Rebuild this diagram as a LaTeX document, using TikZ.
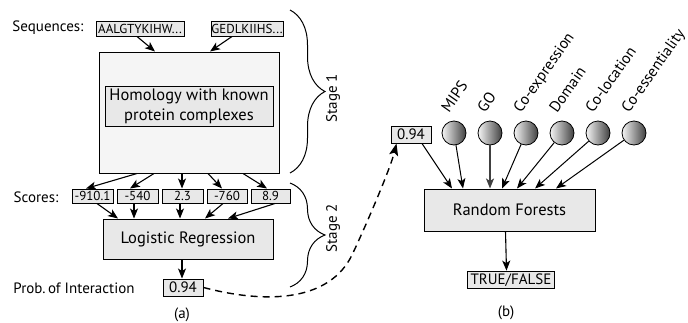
\documentclass[tikz,border=0pt]{standalone}
\usepackage{fontspec}
\setmainfont{PT Sans}
\usetikzlibrary{arrows.meta,decorations.pathreplacing,calc}
\begin{document}
\begin{tikzpicture}[x=1pt,y=-1pt,
  txt/.style={inner sep=0pt,font=\fontsize{15}{17}\selectfont},
  box/.style={draw,line width=1pt,fill=gray!18,inner sep=0pt,font=\fontsize{13}{15}\selectfont},
  bigbox/.style={draw,line width=1pt,fill=gray!8,inner sep=0pt},
  ball/.style={circle,draw,line width=0.8pt,minimum size=24pt,inner sep=0pt,left color=gray!8,right color=black!75},
  lbl/.style={rotate=55,anchor=base west,inner sep=0pt,font=\fontsize{15.5}{18}\selectfont},
  arr/.style={line width=1.1pt,-{Stealth[length=10pt,width=8pt,inset=2.5pt]}},
  ln/.style={line width=1pt,-{Stealth[length=10pt,width=8pt,inset=2.5pt]}},
  bracestyle/.style={line width=1pt,decorate,decoration={brace,amplitude=35pt}}
]
\useasboundingbox (0,0) rectangle (688,322);

% ---- part (a)
\node[txt] (seqlbl) at (48,28) {Sequences:};
\node[box,minimum width=88pt,minimum height=15pt] (s1) at (140,28.5) {AALGTYKIHW...};
\node[box,minimum width=72pt,minimum height=15pt] (s2) at (247,28.5) {GEDLKIIHS...};
\node[bigbox,minimum width=180pt,minimum height=121pt] (big) at (189,112.5) {};
\node[box,minimum width=168pt,minimum height=40pt,align=center,font=\fontsize{16.5}{20}\selectfont] (hom) at (189,106) {Homology with known\\protein complexes};
\draw[arr] ([xshift=-3pt]s1.south) -- ([xshift=-34pt]big.north);
\draw[arr] ([xshift=-15pt]s2.south) -- ([xshift=21pt]big.north);

\node[txt] (scorelbl) at (36,197) {Scores:};
\node[box,minimum width=41pt,minimum height=14pt] (sc1) at (92.5,196) {-910.1};
\node[box,minimum width=41pt,minimum height=14pt] (sc2) at (137.5,196) {-540};
\node[box,minimum width=41pt,minimum height=14pt] (sc3) at (182.5,196) {2.3};
\node[box,minimum width=40pt,minimum height=14pt] (sc4) at (227,196) {-760};
\node[box,minimum width=39pt,minimum height=14pt] (sc5) at (270.5,196) {8.9};

\draw[arr] ([xshift=-52pt]big.south) -- ([xshift=-6.5pt]sc1.north);
\draw[arr] ([xshift=-35pt]big.south) -- ([xshift=-7.5pt]sc2.north);
\draw[arr] ([xshift=-7pt]big.south) -- ([xshift=-0.5pt]sc3.north);
\draw[arr] ([xshift=19pt]big.south) -- ([xshift=-5pt]sc4.north);
\draw[arr] ([xshift=54pt]big.south) -- ([xshift=-3.5pt]sc5.north);

\node[box,minimum width=170pt,minimum height=40pt,font=\fontsize{16.5}{19}\selectfont] (lr) at (188,239) {Logistic Regression};
\draw[arr] ([xshift=4.5pt]sc1.south) -- ([xshift=-70pt]lr.north);
\draw[arr] ([xshift=-3.5pt]sc2.south) -- ([xshift=-54pt]lr.north);
\draw[arr] ([xshift=-2.5pt]sc3.south) -- ([xshift=-8pt]lr.north);
\draw[arr] ([xshift=-4pt]sc4.south) -- ([xshift=17pt]lr.north);
\draw[arr] ([xshift=4.5pt]sc5.south) -- ([xshift=40pt]lr.north);

\node[box,minimum width=40pt,minimum height=17pt,font=\fontsize{15}{17}\selectfont] (p) at (183,287.5) {0.94};
\draw[arr] ([xshift=-6pt]lr.south) -- ([xshift=-1pt]p.north);
\node[txt] (problbl) at (74,288) {Prob.\,of Interaction};
\node[txt] (alab) at (182,315) {(a)};

\draw[bracestyle] (290,10) -- (290,173);
\node[txt,rotate=90] (st1) at (333,98) {Stage 1};
\draw[bracestyle] (290,183) -- (290,287);
\node[txt,rotate=90] (st2) at (333,228) {Stage 2};

% ---- part (b)
\node[box,minimum width=40pt,minimum height=17pt,font=\fontsize{15}{17}\selectfont] (pb) at (411,134.5) {0.94};
\node[ball] (c1) at (454,133) {};
\node[ball] (c2) at (490,133) {};
\node[ball] (c3) at (526,133) {};
\node[ball] (c4) at (562,133) {};
\node[ball] (c5) at (598,133) {};
\node[ball] (c6) at (634,133) {};
\node[lbl] (l1) at ([xshift=-5pt,yshift=7pt]c1.north) {MIPS};
\node[lbl] (l2) at ([xshift=-5pt,yshift=7pt]c2.north) {GO};
\node[lbl] (l3) at ([xshift=-5pt,yshift=7pt]c3.north) {Co-expression};
\node[lbl] (l4) at ([xshift=-5pt,yshift=7pt]c4.north) {Domain};
\node[lbl] (l5) at ([xshift=-5pt,yshift=7pt]c5.north) {Co-location};
\node[lbl] (l6) at ([xshift=-5pt,yshift=7pt]c6.north) {Co-essentiality};

\node[box,minimum width=171pt,minimum height=42pt,font=\fontsize{16.5}{19}\selectfont] (rf) at (509.5,210) {Random Forests};
\draw[ln] ([xshift=11pt]pb.south) -- ([xshift=-57.5pt]rf.north);
\draw[ln] (c1) -- ([xshift=-46.5pt]rf.north);
\draw[ln,line width=1.5pt,draw=black!75] (c2) -- ([xshift=-19.5pt]rf.north);
\draw[ln] (c3) -- ([xshift=-7.5pt]rf.north);
\draw[ln] (c4) -- ([xshift=7.5pt]rf.north);
\draw[ln] (c5) -- ([xshift=25.5pt]rf.north);
\draw[ln] (c6) -- ([xshift=46.5pt]rf.north);

\node[box,line width=1.8pt,minimum width=87pt,minimum height=17pt,font=\fontsize{15}{17}\selectfont] (tf) at (511,280) {TRUE/FALSE};
\draw[arr] ([xshift=-4pt]rf.south) -- ([xshift=-4.5pt]tf.north);
\node[txt] (blab) at (506,313) {(b)};

\draw[line width=1.4pt,dash pattern=on 7pt off 5pt,-{Stealth[length=12pt,width=9pt,inset=2.5pt]}]
  (p.east) .. controls (270,305) and (330,300) .. (352,255)
  .. controls (363,232) and (390,170) .. ([xshift=6pt]pb.south west);
\end{tikzpicture}
\end{document}
